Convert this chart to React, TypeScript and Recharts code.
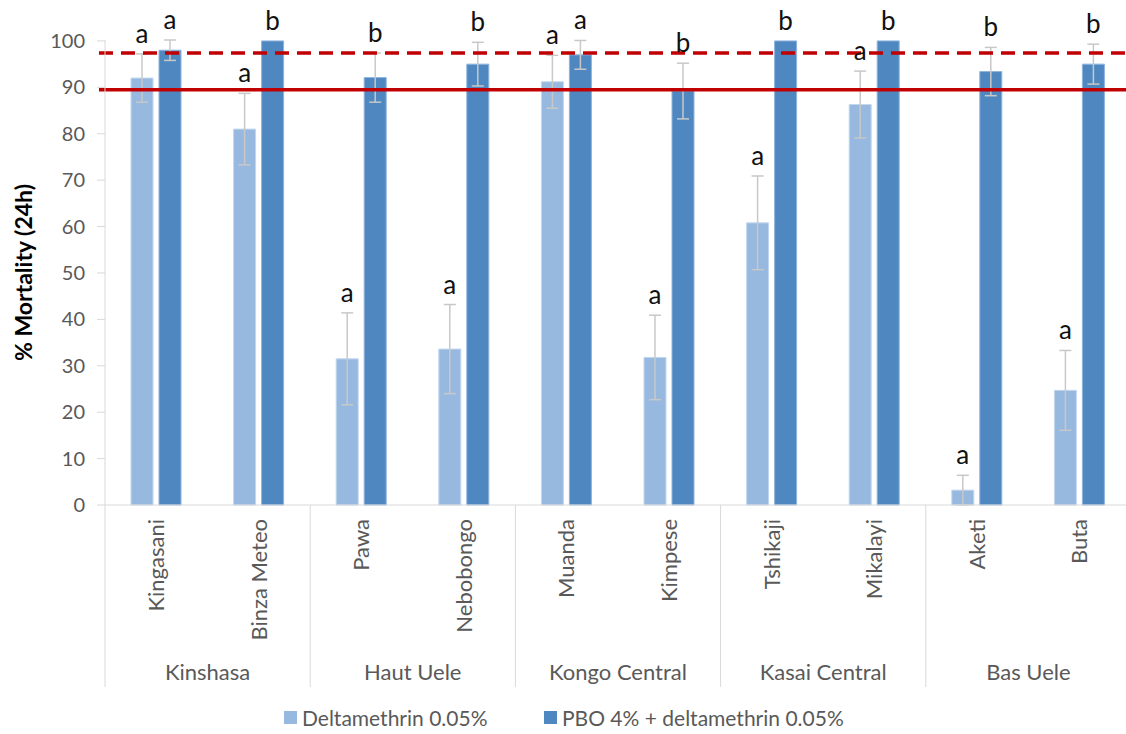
import React from 'react';
import {
  BarChart,
  Bar,
  XAxis,
  YAxis,
  ErrorBar,
  LabelList,
  ReferenceLine,
} from 'recharts';

// sites, two per province
const sites = [
  'Kingasani',
  'Binza Meteo',
  'Pawa',
  'Nebobongo',
  'Muanda',
  'Kimpese',
  'Tshikaji',
  'Mikalayi',
  'Aketi',
  'Buta',
];
const provinces = ['Kinshasa', 'Haut Uele', 'Kongo Central', 'Kasai Central', 'Bas Uele'];

// % mortality after 24h, with error bar half-widths
const deltaMortality = [92.0, 81.0, 31.5, 33.6, 91.2, 31.8, 60.8, 86.3, 3.2, 24.7];
const deltaError = [5.2, 7.7, 9.9, 9.6, 5.7, 9.1, 10.1, 7.2, 3.2, 8.6];
const pboMortality = [98.0, 100, 92.1, 95.0, 97.0, 89.2, 100, 100, 93.4, 95.0];
const pboError = [2.2, 0, 5.3, 4.7, 3.1, 6.0, 0, 0, 5.2, 4.3];

// significance letters
const deltaLetters = ['a', 'a', 'a', 'a', 'a', 'a', 'a', 'a', 'a', 'a'];
const pboLetters = ['a', 'b', 'b', 'b', 'a', 'b', 'b', 'b', 'b', 'b'];

const yTicks = [0, 10, 20, 30, 40, 50, 60, 70, 80, 90, 100];

// threshold lines
const suspectedResistance = 97.4;
const confirmedResistance = 89.5;

const LIGHT = '#97b9e0';
const DARK = '#4f88c0';
const GRID = '#d9d9d9';
const TEXT = '#595959';

const data = sites.map((site, i) => ({
  site,
  delta: deltaMortality[i],
  deltaErr: deltaError[i],
  pbo: pboMortality[i],
  pboErr: pboError[i],
}));

function AxisTick(props: any) {
  const { x, y, payload, index } = props;
  const half = payload?.offset || 51.3;
  const first = index % 2 === 0;
  const last = index === sites.length - 1;
  return (
    <g>
      <text
        transform={`translate(${x},${y + 14}) rotate(-90)`}
        textAnchor="end"
        dy="0.35em"
        fontSize={22}
        fill={TEXT}
      >
        {payload.value}
      </text>
      {first && (
        <>
          <line x1={x - half} x2={x - half} y1={y} y2={y + 182} stroke={GRID} />
          <text x={x + half} y={y + 175} textAnchor="middle" fontSize={22} fill={TEXT}>
            {provinces[index / 2]}
          </text>
        </>
      )}
      {last && <line x1={x + half} x2={x + half} y1={y} y2={y + 182} stroke={GRID} />}
    </g>
  );
}

// letter placed above the top of the error bar
const letterLabel = (letters: string[], errs: number[]) => (props: any) => {
  const box = props.viewBox ?? props;
  const { x, y, width, height } = box;
  const { index, value } = props;
  const perUnit = value > 0 ? Math.abs(height) / value : 0;
  const top = Math.min(y, y + height) - errs[index] * perUnit;
  return (
    <text x={x + width / 2} y={top - 11} textAnchor="middle" fontSize={26} fill="#111">
      {letters[index]}
    </text>
  );
};

const redLine = (dashed: boolean) => (props: any) => (
  <line
    x1={props.x1 - 6}
    x2={props.x2}
    y1={props.y1}
    y2={props.y2}
    stroke="#c00000"
    strokeWidth={3.5}
    strokeDasharray={dashed ? '14 8' : undefined}
  />
);

function LegendItem({ color, label, left }: { color: string; label: string; left: number }) {
  return (
    <div
      style={{
        position: 'absolute',
        left,
        top: 705,
        display: 'flex',
        alignItems: 'center',
        fontSize: 21,
        color: TEXT,
        whiteSpace: 'nowrap',
      }}
    >
      <span style={{ width: 13, height: 13, background: color, marginRight: 5 }} />
      {label}
    </div>
  );
}

export default function App() {
  return (
    <div
      style={{
        position: 'absolute',
        left: 0,
        top: 0,
        width: 1126,
        height: 734,
        overflow: 'hidden',
        background: '#fff',
        fontFamily: 'Lato, sans-serif',
      }}
    >
      <BarChart
        width={1140}
        height={734}
        data={data}
        margin={{ top: 40, right: 9, left: 10, bottom: 39 }}
        barSize={22}
        barGap={6}
      >
        <XAxis
          dataKey="site"
          height={190}
          interval={0}
          tickLine={false}
          tickSize={0}
          tickMargin={0}
          axisLine={{ stroke: GRID }}
          tick={<AxisTick />}
        />
        <YAxis
          width={95}
          domain={[0, 100]}
          ticks={yTicks}
          interval={0}
          tickSize={8}
          tickMargin={12}
          axisLine={{ stroke: GRID }}
          tickLine={{ stroke: GRID }}
          tick={{ fill: TEXT, fontSize: 20 }}
          label={{
            value: '% Mortality (24h)',
            angle: -90,
            position: 'insideLeft',
            offset: 14,
            style: { textAnchor: 'middle', fontWeight: 700, fontSize: 23, fill: '#000' },
          }}
        />
        <Bar dataKey="delta" fill={LIGHT} stroke="#c3d7ef" strokeWidth={1} isAnimationActive={false}>
          <ErrorBar dataKey="deltaErr" width={6} stroke="#c8c8c8" strokeWidth={1.5} direction="y" isAnimationActive={false} />
          <LabelList dataKey="delta" content={letterLabel(deltaLetters, deltaError)} />
        </Bar>
        <Bar dataKey="pbo" fill={DARK} stroke="#8fb3dc" strokeWidth={1} isAnimationActive={false}>
          <ErrorBar dataKey="pboErr" width={6} stroke="#c8c8c8" strokeWidth={1.5} direction="y" isAnimationActive={false} />
          <LabelList dataKey="pbo" content={letterLabel(pboLetters, pboError)} />
        </Bar>
        <ReferenceLine y={suspectedResistance} shape={redLine(true)} />
        <ReferenceLine y={confirmedResistance} shape={redLine(false)} />
      </BarChart>
      <LegendItem color={LIGHT} label="Deltamethrin 0.05%" left={284} />
      <LegendItem color={DARK} label="PBO 4% + deltamethrin 0.05%" left={544} />
    </div>
  );
}
